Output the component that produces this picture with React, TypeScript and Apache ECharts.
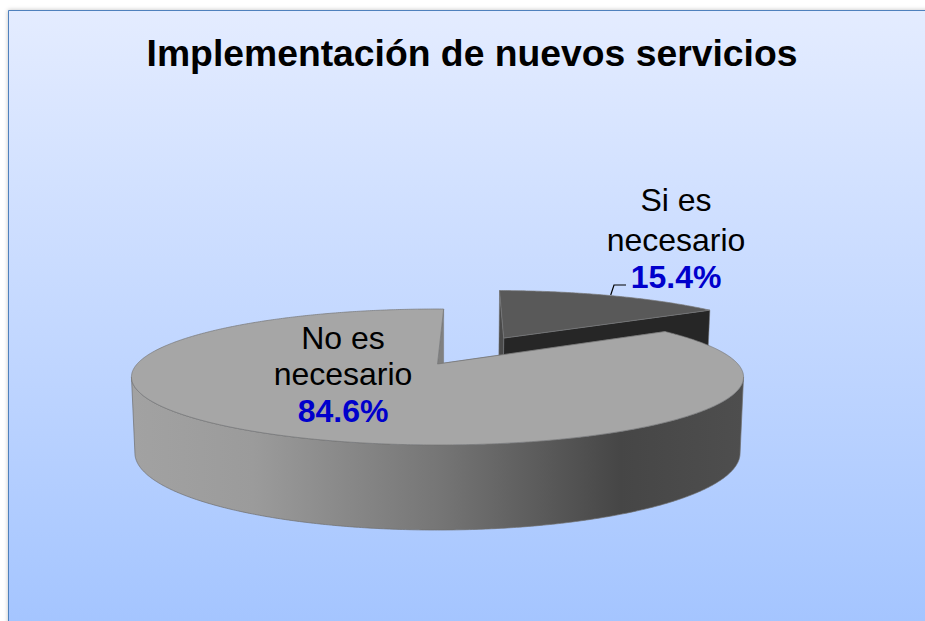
import React, { useEffect, useRef } from "react";
import * as echarts from "echarts";

const chartTitle = "Implementación de nuevos servicios";
const categories = ["Si es necesario", "No es necesario"];
const labelLines = [["Si es", "necesario"], ["No es", "necesario"]];
const values = [15.4, 84.6];
const explosion = [0.49, 0];

const FONT = "'Liberation Sans', Arial, sans-serif";
const START_DEG = 1.4;
const CX = 437.5;
const PERSPECTIVE = 0.191;
const TOP_PLANE = { cy: 364, R: 300.4, a: 65.5 };
const BOTTOM_PLANE = { cy: 438.3, R: 297, a: 74.2 };
const FRONT_FROM_DEG = 101;
const FRONT_TO_DEG = 259;

const sideGradient = {
  type: "linear", x: 131, y: 0, x2: 743, y2: 0, global: true,
  colorStops: [
    { offset: 0, color: "#a2a2a2" },
    { offset: 0.2, color: "#9b9b9b" },
    { offset: 0.5, color: "#767676" },
    { offset: 0.8, color: "#464646" },
    { offset: 1, color: "#4e4e4e" },
  ],
};
const sliceStyles = [
  { top: "#595959", outer: "#4a4a4a", startWall: "#4a4a4a", endWall: "#262626" },
  { top: "#a6a6a6", outer: sideGradient, startWall: "#5f5f5f", endWall: "#808080" },
];
const labelAnchors = [
  { x: 676, ys: [200, 240, 277] },
  { x: 343, ys: [338, 374, 411] },
];

function project(plane: any, u: number, v: number): number[] {
  const den = 1 + PERSPECTIVE * v;
  return [CX + (plane.R * u) / den, plane.cy - (plane.a * v) / den];
}

function renderSlice(params: any, api: any) {
  const i = params.dataIndex;
  const total = values.reduce((s, x) => s + x, 0);
  const before = values.slice(0, i).reduce((s, x) => s + x, 0);
  const rad = (d: number) => (d * Math.PI) / 180;
  const s = START_DEG + (before / total) * 360;
  const sweep = (api.value(0) / total) * 360;
  const e = s + sweep;
  const mid = rad(s + sweep / 2);
  const d = explosion[i];
  const ou = d * Math.sin(mid);
  const ov = d * Math.cos(mid);
  const rim = (plane: any, deg: number) =>
    project(plane, ou + Math.sin(rad(deg)), ov + Math.cos(rad(deg)));
  const apex = (plane: any) => project(plane, ou, ov);
  const arc = (plane: any, from: number, to: number) => {
    const steps = Math.ceil((to - from) * 2);
    const out: number[][] = [];
    for (let k = 0; k <= steps; k++) out.push(rim(plane, from + ((to - from) * k) / steps));
    return out;
  };
  const topArc = arc(TOP_PLANE, s, e);
  const st = sliceStyles[i];
  const poly = (points: number[][], fill: any, stroke: string, lineWidth = 0.7) => ({
    type: "polygon",
    shape: { points },
    style: { fill, stroke, lineWidth },
    silent: true,
  });
  const wall = (deg: number, fill: string) =>
    poly([apex(TOP_PLANE), rim(TOP_PLANE, deg), rim(BOTTOM_PLANE, deg), apex(BOTTOM_PLANE)], fill, "#777777", 0.5);

  const pct = ((api.value(0) / total) * 100).toFixed(1) + "%";
  const anchor = labelAnchors[i];
  const text = (t: string, y: number, bold: boolean) => ({
    type: "text",
    x: anchor.x,
    y,
    silent: true,
    style: {
      text: t,
      fontFamily: FONT,
      fontSize: 32,
      fontWeight: bold ? "bold" : "normal",
      fill: bold ? "#0000cc" : "#000000",
      align: "center",
      verticalAlign: "middle",
    },
  });

  const frontFrom = Math.max(s, FRONT_FROM_DEG);
  const frontTo = Math.min(e, FRONT_TO_DEG);
  const outer =
    frontTo > frontFrom
      ? [
          poly(
            [...arc(TOP_PLANE, frontFrom, frontTo), ...arc(BOTTOM_PLANE, frontFrom, frontTo).reverse()],
            st.outer,
            "#6f6f6f"
          ),
        ]
      : [];

  return {
    type: "group",
    children: [
      ...outer,
      wall(e, st.endWall),
      wall(s, st.startWall),
      poly([apex(TOP_PLANE), ...topArc], st.top, "#777777"),
      text(labelLines[i][0], anchor.ys[0], false),
      text(labelLines[i][1], anchor.ys[1], false),
      text(pct, anchor.ys[2], true),
    ],
  };
}

export default function App() {
  const ref = useRef<HTMLDivElement>(null);
  useEffect(() => {
    const chart = echarts.init(ref.current!, undefined, { renderer: "svg" });
    chart.setOption({
      animation: false,
      title: {
        text: chartTitle,
        left: 467,
        top: 29,
        textAlign: "center",
        textStyle: { fontFamily: FONT, fontSize: 37.3, fontWeight: "bold", color: "#000000" },
      },
      graphic: [
        {
          type: "rect",
          z: -10,
          silent: true,
          shape: { x: 8.5, y: 10.5, width: 925, height: 625 },
          style: {
            fill: {
              type: "linear", x: 0, y: 0, x2: 0, y2: 1,
              colorStops: [
                { offset: 0, color: "#e4ecff" },
                { offset: 1, color: "#a3c4ff" },
              ],
            },
            stroke: "#4f81bd",
            lineWidth: 1,
            shadowBlur: 4,
            shadowColor: "rgba(0,0,0,0.25)",
          },
        },
        {
          type: "polyline",
          z: 20,
          silent: true,
          shape: { points: [[610.7, 295], [614, 285], [626, 285]] },
          style: { stroke: "#000000", lineWidth: 1.2, fill: "none" },
        },
      ],
      series: [
        {
          type: "custom",
          coordinateSystem: "none",
          renderItem: renderSlice,
          data: categories.map((name, i) => ({ name, value: [values[i]] })),
          z: 5,
        },
      ],
    });
    return () => chart.dispose();
  }, []);
  return (
    <div
      ref={ref}
      style={{ position: "absolute", left: 0, top: 0, width: 925, height: 621, overflow: "hidden" }}
    />
  );
}
